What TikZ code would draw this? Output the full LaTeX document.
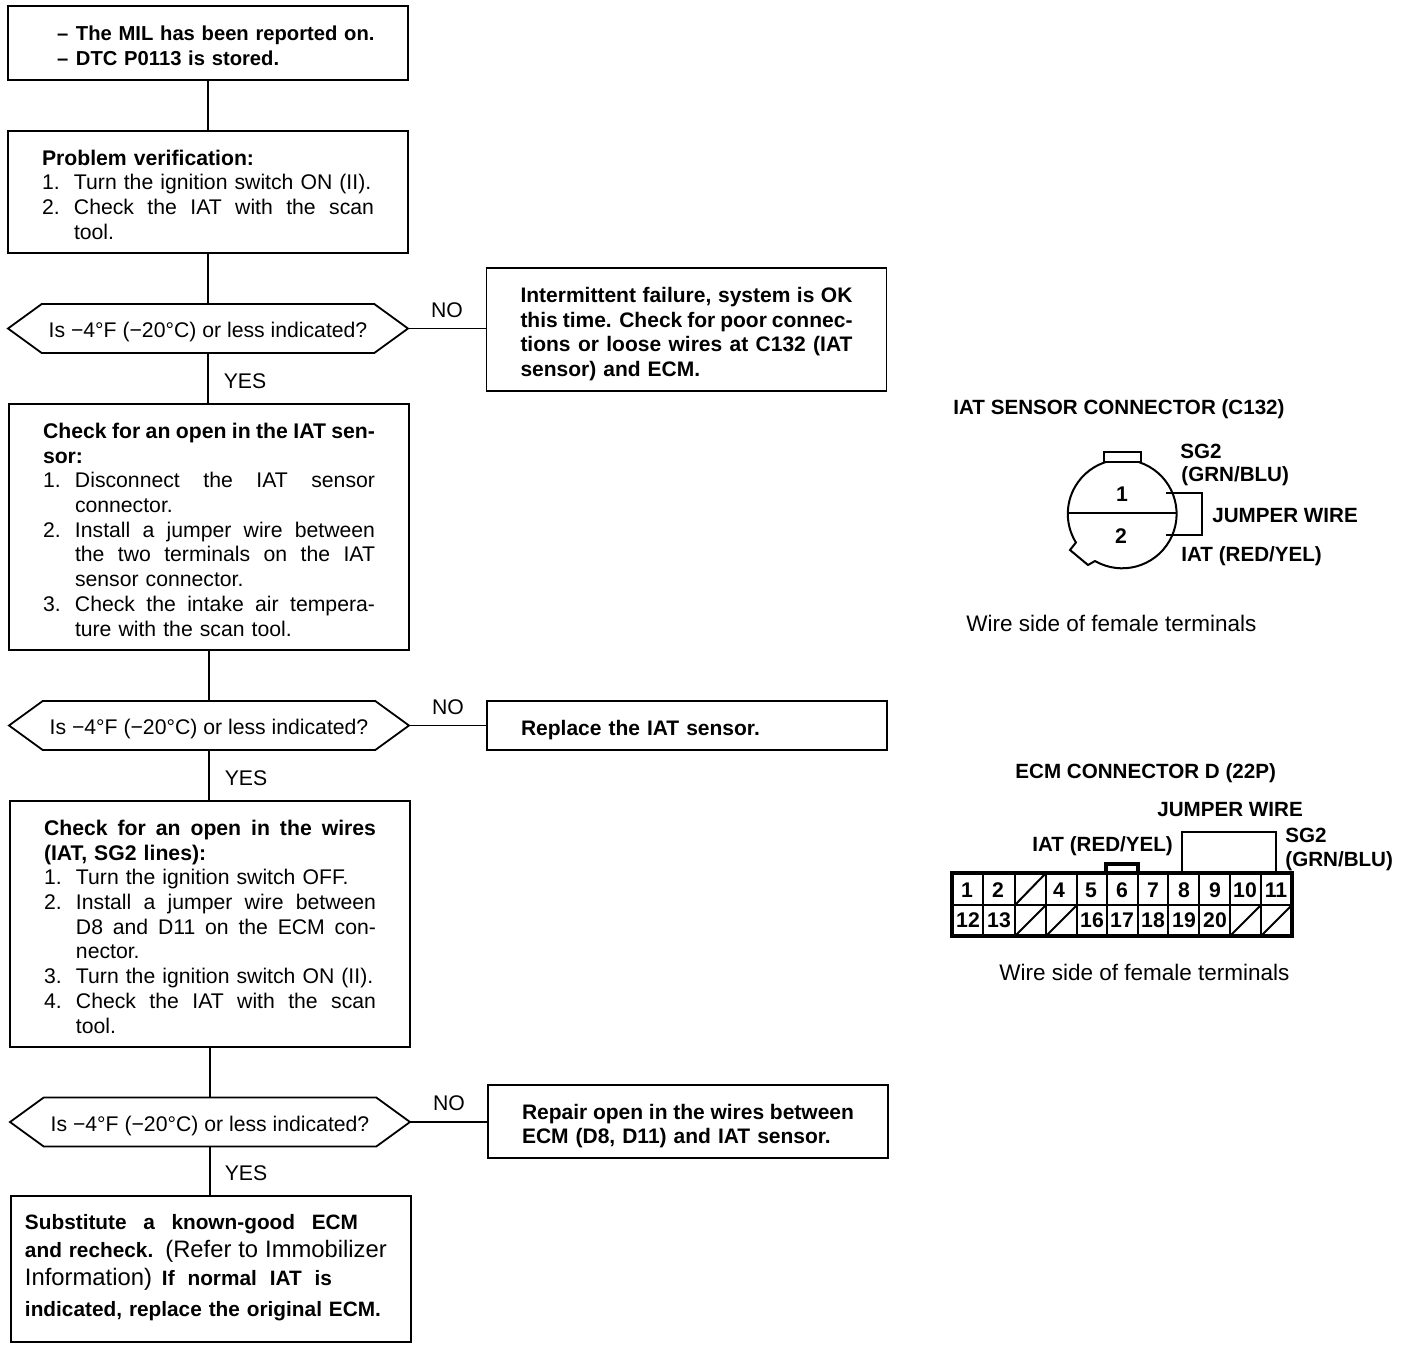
\documentclass[tikz,border=0pt]{standalone}
\usepackage{fontspec}
\setmainfont{Liberation Sans}
\usetikzlibrary{shapes.symbols,shapes.misc}
\newcommand{\jl}[1]{\makebox[166pt][s]{\spaceskip=0pt\xspaceskip=0pt\relax #1}}
\newcommand{\itm}[2]{\makebox[16pt][l]{#1}#2}
\newcommand{\jitm}[2]{\makebox[16pt][l]{#1}\makebox[150pt][s]{\spaceskip=0pt\xspaceskip=0pt\relax #2}}
\newcommand{\cnt}[1]{\hspace*{16pt}#1}
\newcommand{\jcnt}[1]{\hspace*{16pt}\makebox[150pt][s]{\spaceskip=0pt\xspaceskip=0pt\relax #1}}
\newcommand{\dashitm}[1]{\hspace*{7.5pt}\makebox[9.5pt][l]{–}\mbox{#1}}
\tikzset{
  x=0.5pt,y=-0.5pt,
  wire/.style={line width=0.9pt,black},
  box/.style={draw=black,line width=0.9pt,rectangle,inner ysep=0pt,inner xsep=17pt,outer sep=0pt,text width=166pt,align=left,font=\fontsize{10.6}{12.35}\selectfont,execute at begin node={\rule{0pt}{10.3pt}}},
  bbox/.style={box,font=\bfseries\fontsize{10.5}{12.35}\selectfont},
  hexa/.style={draw=black,line width=0.9pt,shape=signal,signal to=west and east,signal pointer angle=72,minimum width=200pt,minimum height=24.5pt,inner sep=0pt,outer sep=0pt,font=\fontsize{10.6}{12.35}\selectfont,execute at begin node={\rule{0pt}{11.4pt}}},
  lab/.style={font=\fontsize{10.6}{12.35}\selectfont,inner sep=0pt},
  head/.style={font=\bfseries\fontsize{10.3}{12.35}\selectfont,inner sep=0pt,anchor=west},
  note/.style={font=\fontsize{11.25}{12.35}\selectfont,inner sep=0pt,anchor=west},
  pin/.style={font=\bfseries\fontsize{10.6}{12}\selectfont,inner sep=0pt},
  conn/.style={line width=1pt,black},
  heavy/.style={line width=1.6pt,black}
}
\begin{document}
\begin{tikzpicture}
\useasboundingbox (0,0) rectangle (1408,1350);
\fill[white] (0,0) rectangle (1408,1350);

% left column
\node[bbox,minimum height=37pt,font=\bfseries\fontsize{10.1}{12.35}\selectfont] (b1) at (208,43) {\dashitm{The MIL has been reported on.}\\\dashitm{DTC P0113 is stored.}};
\node[box,minimum height=61pt] (b2) at (208,192) {\textbf{Problem verification:}\\\itm{1.}{Turn the ignition switch ON (II).}\\\jitm{2.}{Check the IAT with the scan}\\\cnt{tool.}};
\node[hexa] (h1) at (208,328.5) {Is −4°F (−20°C) or less indicated?};
\node[box,minimum height=123pt,execute at begin node={\rule{0pt}{9.3pt}}] (b3) at (209,527) {\textbf{\jl{Check for an open in the IAT sen-}}\\\textbf{sor:}\\\jitm{1.}{Disconnect the IAT sensor}\\\cnt{connector.}\\\jitm{2.}{Install a jumper wire between}\\\jcnt{the two terminals on the IAT}\\\cnt{sensor connector.}\\\jitm{3.}{Check the intake air tempera-}\\\cnt{ture with the scan tool.}};
\node[hexa] (h2) at (209,725.5) {Is −4°F (−20°C) or less indicated?};
\node[box,minimum height=123pt,execute at begin node={\rule{0pt}{9.3pt}}] (b4) at (210,924) {\textbf{\jl{Check for an open in the wires}}\\\textbf{(IAT, SG2 lines):}\\\itm{1.}{Turn the ignition switch OFF.}\\\jitm{2.}{Install a jumper wire between}\\\jcnt{D8 and D11 on the ECM con-}\\\cnt{nector.}\\\itm{3.}{Turn the ignition switch ON (II).}\\\jitm{4.}{Check the IAT with the scan}\\\cnt{tool.}};
\node[hexa] (h3) at (210,1122) {Is −4°F (−20°C) or less indicated?};
\node[box,minimum height=73pt,inner xsep=7pt,text width=186pt,execute at begin node={},font=\bfseries\fontsize{10.4}{13}\selectfont] (b5) at (211,1269) {\makebox[166.5pt][s]{\spaceskip=0pt\xspaceskip=0pt\relax Substitute a known-good ECM}\\[1pt]and recheck.\hspace{6pt}{\mdseries\fontsize{11.9}{13}\selectfont (Refer to Immobilizer}\\[0.7pt]{\mdseries\fontsize{11.9}{13}\selectfont Information)}\hspace{5pt}\makebox[85pt][s]{\spaceskip=0pt\xspaceskip=0pt\relax If normal IAT is}\\[2.5pt]indicated, replace the original ECM.\rule[-6.2pt]{0pt}{6.2pt}};

% right column
\node[bbox,minimum height=61.5pt,execute at begin node={\rule{0pt}{12.3pt}}] (r1) at (686.5,329.5) {\jl{Intermittent failure, system is OK}\\\jl{this time. Check for poor connec-}\\\jl{tions or loose wires at C132 (IAT}\\sensor) and ECM.};
\node[bbox,minimum height=24.5pt,execute at begin node={\rule{0pt}{12.2pt}}] (r2) at (687,725.5) {Replace the IAT sensor.};
\node[bbox,minimum height=36.5pt,execute at begin node={\rule{0pt}{12.3pt}}] (r3) at (688,1121.5) {\jl{Repair open in the wires between}\\ECM (D8, D11) and IAT sensor.};

% connectors
\draw[wire] (b1.south) -- (b2.north);
\draw[wire] (b2.south) -- (h1.north);
\draw[wire] (h1.south) -- (h1.south |- b3.north);
\draw[wire] (b3.south) -- (h2.north);
\draw[wire] (h2.south) -- (h2.south |- b4.north);
\draw[wire] (b4.south) -- (h3.north);
\draw[wire] (h3.south) -- (h3.south |- b5.north);
\draw[wire] (h1.east) -- (h1.east -| r1.west);
\draw[wire] (h2.east) -- (r2.west);
\draw[wire] (h3.east) -- (h3.east -| r3.west);

% branch labels
\node[lab] (n1) at (447,310) {NO};
\node[lab] (y1) at (245,381) {YES};
\node[lab] (n2) at (448,707) {NO};
\node[lab] (y2) at (246,778) {YES};
\node[lab] (n3) at (449,1103) {NO};
\node[lab] (y3) at (246,1173) {YES};

% IAT sensor connector
\node[head] (t1) at (953,409) {IAT SENSOR CONNECTOR (C132)};
\node[head] (t2) at (1180,451) {SG2};
\node[head] (t3) at (1181,476) {(GRN/BLU)};
\node[head] (t4) at (1212,516) {JUMPER WIRE};
\node[head] (t5) at (1181,556) {IAT (RED/YEL)};
\node[note] (t6) at (966,623) {Wire side of female terminals};
\draw[conn] (1095,561) arc[start angle=240,end angle=571.7,radius=27.2pt]
  -- (1070,550) -- (1088,565) -- cycle;
\draw[conn,fill=white] (1104,452) rectangle (1141,462);
\draw[conn] (1067,513) -- (1177,513);
\draw[conn] (1166,493) -- (1202,493) -- (1202,535) -- (1166,535);
\node[pin] (p1) at (1122,494) {1};
\node[pin] (p2) at (1121,536) {2};

% ECM connector
\node[head] (e1) at (1015,773) {ECM CONNECTOR D (22P)};
\node[head] (e2) at (1157,809) {JUMPER WIRE};
\node[head] (e3) at (1032,846) {IAT (RED/YEL)};
\node[head] (e4) at (1285,835) {SG2};
\node[head] (e5) at (1285,861) {(GRN/BLU)};
\node[note] (e6) at (999,972) {Wire side of female terminals};
\draw[conn] (1182,873) -- (1182,832) -- (1276,832) -- (1276,873);
\draw[heavy] (1106,873) -- (1106,864) -- (1138,864) -- (1138,873);
\draw[line width=1.6pt] (952,873) rectangle (1292,936);
\draw[conn] (952,905) -- (1292,905);
\foreach \xx in {983,1015,1046,1077,1107,1138,1168,1199,1230,1261}
  \draw[conn] (\xx,873) -- (\xx,936);
\foreach \xa/\xb/\ya/\yb in {1015/1046/905/873,1015/1046/936/905,1046/1077/936/905,1230/1261/936/905,1261/1292/936/905}
  \draw[conn] (\xa,\ya) -- (\xb,\yb);
\foreach \xx/\tx in {967/1,998/2,1059/4,1091/5,1122/6,1153/7,1184/8,1215/9,1245/10,1276/11}
  \node[pin] at (\xx,890) {\tx};
\foreach \xx/\tx in {968/12,999/13,1092/16,1122/17,1153/18,1184/19,1215/20}
  \node[pin] at (\xx,920) {\tx};
\end{tikzpicture}
\end{document}
